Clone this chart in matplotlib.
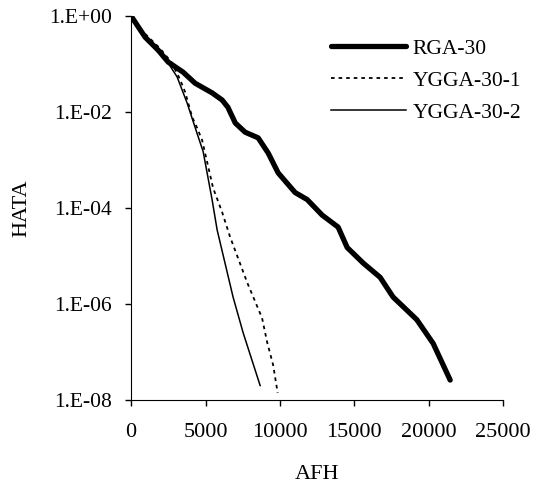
import numpy as np
import matplotlib
matplotlib.use("Agg")
import matplotlib.pyplot as plt
from matplotlib.ticker import FuncFormatter, NullLocator

plt.rcParams['font.family'] = ['Liberation Serif', 'DejaVu Serif']

# Dados --------------------------
rga_x = [0, 940, 1815, 2490, 3495, 4300, 5440, 6115, 6500, 7000, 7660, 8535, 9210,
         9880, 11020, 11830, 12840, 13910, 14520, 15600, 16730, 17600, 19200, 20300, 21440]
rga_y = [1.0, 0.363, 0.195, 0.110, 0.0676, 0.0398, 0.0251, 0.0178, 0.0126, 5.9e-3,
         3.8e-3, 2.9e-3, 1.4e-3, 5.4e-4, 2.1e-4, 1.5e-4, 7.1e-5, 4.0e-5, 1.5e-5,
         7.1e-6, 3.6e-6, 1.4e-6, 4.7e-7, 1.5e-7, 2.6e-8]

ygga1_x = [0, 800, 1950, 2700, 3300, 3630, 4100, 4430, 4770, 5510, 6110, 6650,
           7800, 8800, 9140, 9540, 9850]
ygga1_y = [1.0, 0.47, 0.21, 0.11, 0.047, 0.026, 7.9e-3, 4.7e-3, 2.6e-3, 2.6e-4,
           8.3e-5, 2.5e-5, 2.8e-6, 5.1e-7, 1.6e-7, 5.4e-8, 1.4e-8]

ygga2_x = [0, 940, 1815, 2490, 3090, 3760, 4430, 4840, 5440, 5780, 6850, 7530, 8670]
ygga2_y = [1.0, 0.36, 0.19, 0.105, 0.054, 0.0155, 3.6e-3, 1.5e-3, 1.5e-4, 3.5e-5,
           1.4e-6, 2.5e-7, 2.0e-8]

x_ticks = [0, 5000, 10000, 15000, 20000, 25000]
y_ticks = [1e-8, 1e-6, 1e-4, 1e-2, 1e0]
# ------------------------------

fig = plt.figure(figsize=(5.33, 4.86), dpi=100)
ax = fig.add_axes([0.246, 0.177, 0.698, 0.790])

ax.plot(rga_x, rga_y, color="black", lw=3.8, solid_capstyle="round",
        solid_joinstyle="round", label="RGA-30")
ax.plot(ygga1_x, ygga1_y, color="black", lw=1.3, linestyle=(0, (2, 2.2)), label="YGGA-30-1")
ax.plot(ygga2_x, ygga2_y, color="black", lw=1.1, label="YGGA-30-2")

ax.set_yscale("log")
ax.set_xlim(0, 25000)
ax.set_ylim(1e-8, 1e0)
ax.set_xticks(x_ticks)
ax.set_yticks(y_ticks)
ax.yaxis.set_minor_locator(NullLocator())
ax.yaxis.set_major_formatter(FuncFormatter(lambda v, p: "1.E%+03d" % int(round(np.log10(v)))))

for s in ["top", "right"]:
    ax.spines[s].set_visible(False)
ax.tick_params(axis="both", direction="out", length=4.3, width=1)
ax.tick_params(axis="x", pad=12.3, labelsize=16)
ax.tick_params(axis="y", pad=9.4, labelsize=15.5)

ax.set_xlabel("AFH", fontsize=16, labelpad=16.3)
ax.set_ylabel("HATA", fontsize=16, labelpad=12.5)

ax.legend(loc="upper left", bbox_to_anchor=(320 / 533, 1 - 28 / 486),
          bbox_transform=fig.transFigure, frameon=False, fontsize=15.5,
          handlelength=3.5, handletextpad=0.3, borderpad=0, labelspacing=0.55)

plt.savefig("out.png", dpi=100)
